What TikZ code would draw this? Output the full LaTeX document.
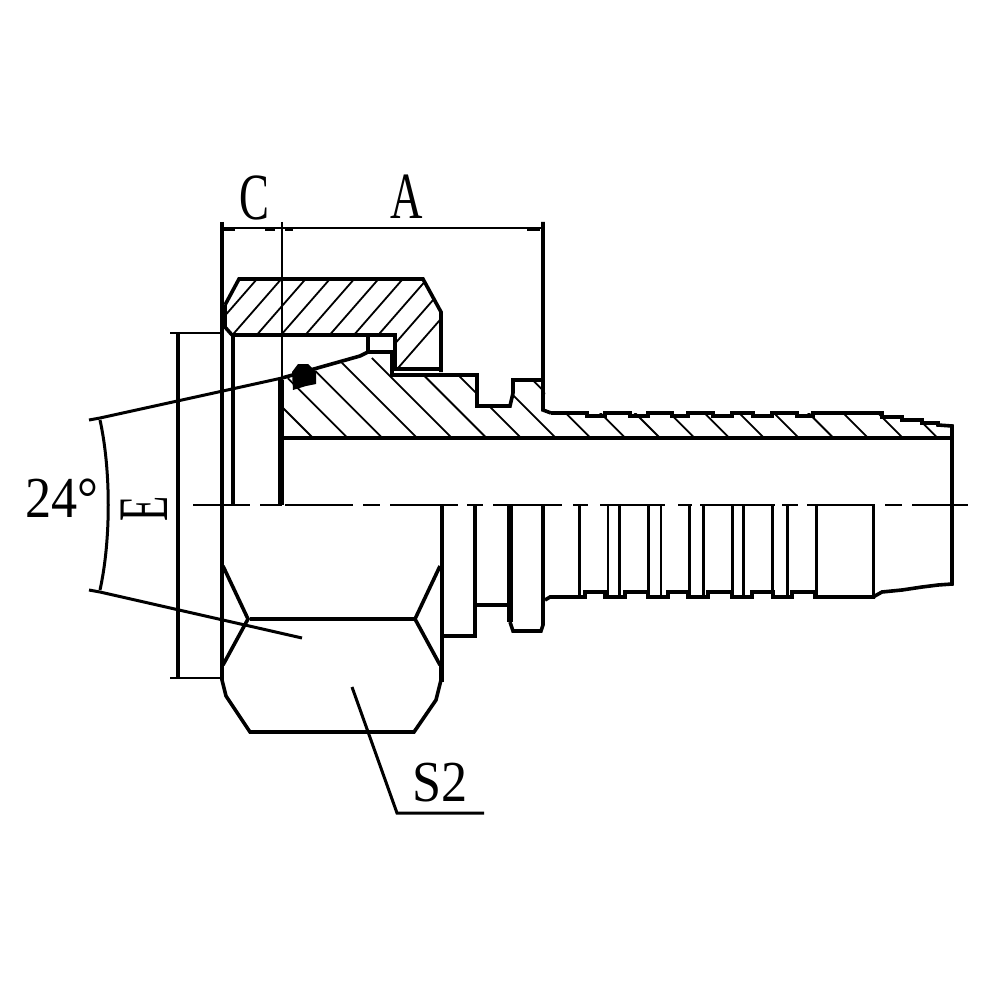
\documentclass[tikz,border=0pt]{standalone}
\usepackage{fontspec}
\setmainfont{Liberation Serif}
\tikzset{
  thick line/.style={line width=3.6pt,line join=miter},
  mid line/.style={line width=3pt},
  thin line/.style={line width=1.9pt},
  hatch/.style={line width=1.8pt},
  big text/.style={font=\fontsize{66}{66}\selectfont,inner sep=0pt,xscale=.68},
  small text/.style={font=\fontsize{58}{58}\selectfont,inner sep=0pt,xscale=.9},
  side text/.style={font=\fontsize{71}{71}\selectfont,inner sep=0pt,yscale=.58,rotate=90}
}
\begin{document}
\begin{tikzpicture}[x=1pt,y=-1pt]
\useasboundingbox (0,0) rectangle (1000,1000);
\fill[white] (0,0) rectangle (1000,1000);
% hatching nut
\begin{scope}
\clip (239,279)--(423,279)--(441,312)--(441,370)--(395,370)--(395,335)--(232,335)--(225,327)--(225,305)--cycle;
\foreach \x in {-1,...,9} {\draw[hatch] ({257+24.3*\x},279) -- ({257+24.3*\x-96},389);}
\end{scope}
% hatching body
\begin{scope}
\clip (282,380)--(360,358)--(370,352)--(392,352)--(392,375)--(477,375)--(477,406)--(510,406)--(513,380)--(542,380)--(550,413)--(882,413)--(902,417)--(922,420)--(952,426)--(952,438)--(282,438)--cycle;
\foreach \x in {0,...,18} {\draw[hatch] ({313+34.7*\x},438) -- ({313+34.7*\x-80},358);}
\end{scope}
% seal blob
\fill (292,372)--(298,364)--(308,364)--(316,372)--(316,384)--(306,386)--(293,390)--cycle;
% dims
\draw[thick line] (222,222)--(222,678);
\draw[thin line] (222,228)--(543,228);
\draw[thin line] (282,222)--(282,380);
\draw[thick line] (543,222)--(543,410)--(551,413);
\draw[mid line] (223,230)--(235,230);
\draw[mid line] (265,230)--(275,230);
\draw[mid line] (285,230)--(293,230);
\draw[mid line] (527,230)--(540,230);
\draw[thin line] (170,333)--(222,333);
\draw[thin line] (170,678)--(222,678);
\draw[thick line] (178,333)--(178,678);
% nut
\draw[thick line] (225,305)--(239,279)--(423,279)--(441,312)--(441,372);
\draw[thick line] (225,305)--(225,327)--(232,335);
\draw[line width=4.4pt] (232,335)--(395,335)--(395,369)--(441,369);
\draw[thick line] (368,335)--(368,352);
\draw[thick line] (233,335)--(233,505);
\draw[line width=5.5pt] (281,380)--(281,505);
% seal and body
\draw[thick line] (282,378)--(360,356)--(368,352)--(392,352)--(392,375)--(477,375)--(477,406)--(510,406)--(513,393)--(513,380)--(543,380);
\draw[thick line] (282,438)--(952,438);
% top profile
\draw[thick line] (551,413)--(587,413)--(587,416)--(605,416)--(605,413)--(630,413)--(630,416)--(648,416)--(648,413)--(672,413)--(672,416)--(688,416)--(688,413)--(713,413)--(713,416)--(732,416)--(732,413)--(753,413)--(753,416)--(772,416)--(772,413)--(797,413)--(797,416)--(813,416)--(813,413)--(882,413)--(882,417)--(902,417)--(902,420)--(922,420)--(922,423)--(938,423)--(938,425)--(952,426)--(952,584)--(938,585)--(922,587)--(902,590)--(882,592)--(873,597);
% bottom profile
\draw[thick line] (545,600)--(550,597)--(585,597)--(585,592)--(605,592)--(605,597)--(625,597)--(625,592)--(648,592)--(648,597)--(668,597)--(668,592)--(688,592)--(688,597)--(708,597)--(708,592)--(732,592)--(732,597)--(752,597)--(752,592)--(773,592)--(773,597)--(792,597)--(792,592)--(815,592)--(815,597)--(875,597);
% centre line
\foreach \a/\b in {193/250,260/282,285/353,363/380,390/458,467/483,493/562,573/588,600/665,678/692,700/775,782/798,807/875,885/902,912/968}{\draw[thin line] (\a,505)--(\b,505);}
% lower verticals
\foreach \x in {579,619,648,689,703,732,743,772,787,816,873}{\draw[mid line] (\x,505)--(\x,595);}
\foreach \x in {608,661}{\draw[thin line] (\x,505)--(\x,595);}
% lower flange
\draw[thick line] (442,505)--(442,682);
\draw[thick line] (442,636)--(475,636)--(475,505);
\draw[thick line] (477,605)--(508,605);
\draw[line width=6pt] (510,505)--(510,622);
\draw[thick line] (510,622)--(513,631)--(541,631)--(543,625)--(543,505);
% hex
\draw[thick line] (250,619)--(415,619);
\draw[thick line] (223,566)--(248,619)--(223,665);
\draw[thick line] (440,566)--(415,619)--(440,665);
\draw[thick line] (222,668)--(222,680)--(226,696)--(250,732)--(414,732)--(436,700)--(441,680)--(441,665);
% leaders
\draw[mid line] (89,420)--(100,418)--(282,378);
\draw[mid line] (89,590)--(100,592)--(302,638);
\draw[mid line] (100,420) .. controls (111,470) and (111,540) .. (100,590);
\draw[mid line] (352,687)--(397,813)--(484,813);
% labels
\node[big text] (c) at (254,198) {C};
\node[big text] (a) at (407,197) {A};
\node[small text] (d) at (62,498) {24°};
\node[side text] (e) at (144,509) {E};
\node[small text] (s) at (440,783) {S2};
\end{tikzpicture}
\end{document}
